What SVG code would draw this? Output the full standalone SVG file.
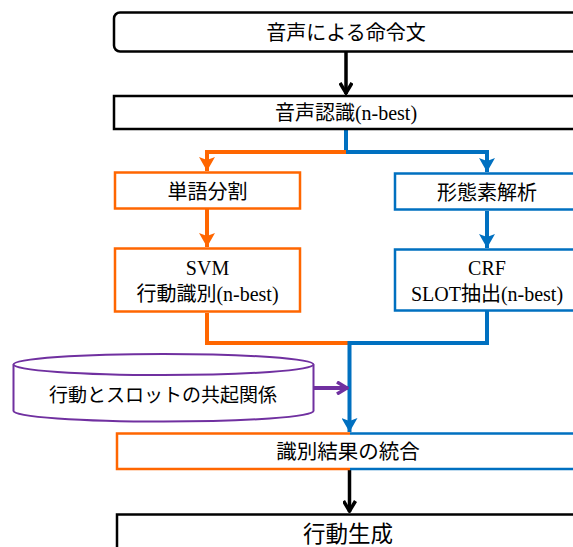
<svg xmlns="http://www.w3.org/2000/svg" width="573" height="547" viewBox="0 0 573 547">
<style>
text{font-family:"Liberation Serif","Noto Sans CJK JP",serif;font-size:20px;fill:#000;text-anchor:middle}
.jp{font-family:"Noto Sans CJK JP","Noto Sans",sans-serif}
.bk{fill:#fff;stroke:#000;stroke-width:2.5}
.or{fill:#fff;stroke:#FF6600;stroke-width:2.5}
.bl{fill:#fff;stroke:#0070C0;stroke-width:2.5}
.cOr{fill:none;stroke:#FF6600;stroke-width:4}
.cBl{fill:none;stroke:#0070C0;stroke-width:4}
.cBk{fill:none;stroke:#000;stroke-width:3.5}
.cPu{fill:none;stroke:#7030A0;stroke-width:4}
</style>
<defs>
<marker id="vBk" markerUnits="userSpaceOnUse" viewBox="0 0 14 14" refX="13" refY="7" markerWidth="14" markerHeight="14" orient="auto"><path d="M2,1 L12,7 L2,13" fill="none" stroke="#000" stroke-width="3.5"/></marker>
<marker id="vPu" markerUnits="userSpaceOnUse" viewBox="0 0 14 14" refX="13" refY="7" markerWidth="14" markerHeight="14" orient="auto"><path d="M2,1 L12,7 L2,13" fill="none" stroke="#7030A0" stroke-width="3.5"/></marker>
<marker id="tOr" markerUnits="userSpaceOnUse" viewBox="0 0 14 16" refX="14" refY="8" markerWidth="14" markerHeight="16" orient="auto"><path d="M0,0 L14,8 L0,16 L3,8 Z" fill="#FF6600"/></marker>
<marker id="tBl" markerUnits="userSpaceOnUse" viewBox="0 0 14 16" refX="14" refY="8" markerWidth="14" markerHeight="16" orient="auto"><path d="M0,0 L14,8 L0,16 L3,8 Z" fill="#0070C0"/></marker>
</defs>

<g id="connectors">
<path class="cBk" d="M346,52 V94" marker-end="url(#vBk)"/>
<path class="cBl" d="M346,129 V152 H487 V172" marker-end="url(#tBl)"/>
<path class="cOr" d="M346,152 H207 V171" marker-end="url(#tOr)"/>
<path class="cOr" d="M207,209 V247" marker-end="url(#tOr)"/>
<path class="cBl" d="M487,211 V248" marker-end="url(#tBl)"/>
<path class="cOr" d="M207,313 V343 H349"/>
<path class="cBl" d="M487,311 V343 H349.5 V432" marker-end="url(#tBl)"/>
<path class="cPu" d="M314,388 H348" marker-end="url(#vPu)"/>
<path class="cBk" d="M349.5,470 V512" marker-end="url(#vBk)"/>
</g>

<g id="n1">
<rect class="bk" x="114" y="12.5" width="470" height="39" rx="6"/>
<text class="jp" x="346" y="39.5">音声による命令文</text>
</g>
<g id="n2">
<rect class="bk" x="114" y="96" width="470" height="33"/>
<text x="346" y="120"><tspan class="jp">音声認識</tspan>(n-best)</text>
</g>
<g id="n3">
<rect class="or" x="115" y="172.5" width="185" height="36"/>
<text class="jp" x="207.5" y="198.5">単語分割</text>
</g>
<g id="n4">
<rect class="bl" x="395" y="173.5" width="184" height="36"/>
<text class="jp" x="487" y="199.5">形態素解析</text>
</g>
<g id="n5">
<rect class="or" x="115" y="248.5" width="185" height="63"/>
<text x="207.5" y="275">SVM</text>
<text x="207.5" y="301"><tspan class="jp">行動識別</tspan>(n-best)</text>
</g>
<g id="n6">
<rect class="bl" x="395" y="249.5" width="184" height="61"/>
<text x="487" y="275">CRF</text>
<text x="487" y="301">SLOT<tspan class="jp">抽出</tspan>(n-best)</text>
</g>
<g id="n7">
<path d="M13.5,364.5 V411 A150,10.5 0 0 0 313.5,411 V364.5" fill="#fff" stroke="#7030A0" stroke-width="2"/>
<ellipse cx="163.5" cy="364.5" rx="150" ry="10.5" fill="#fff" stroke="#7030A0" stroke-width="2"/>
<text class="jp" x="163" y="402" style="font-size:19px">行動とスロットの共起関係</text>
</g>
<g id="n8">
<rect x="117" y="433.5" width="466" height="35.5" fill="#fff"/>
<path d="M350,433.5 H117 V469 H350" fill="none" stroke="#FF6600" stroke-width="2.5"/>
<path d="M350,433.5 H583 V469 H350" fill="none" stroke="#0070C0" stroke-width="2.5"/>
<text class="jp" x="348" y="459" style="font-size:20.5px">識別結果の統合</text>
</g>
<g id="n9">
<rect class="bk" x="117" y="514.5" width="466" height="50"/>
<text class="jp" x="348" y="542" style="font-size:22.5px">行動生成</text>
</g>
</svg>
